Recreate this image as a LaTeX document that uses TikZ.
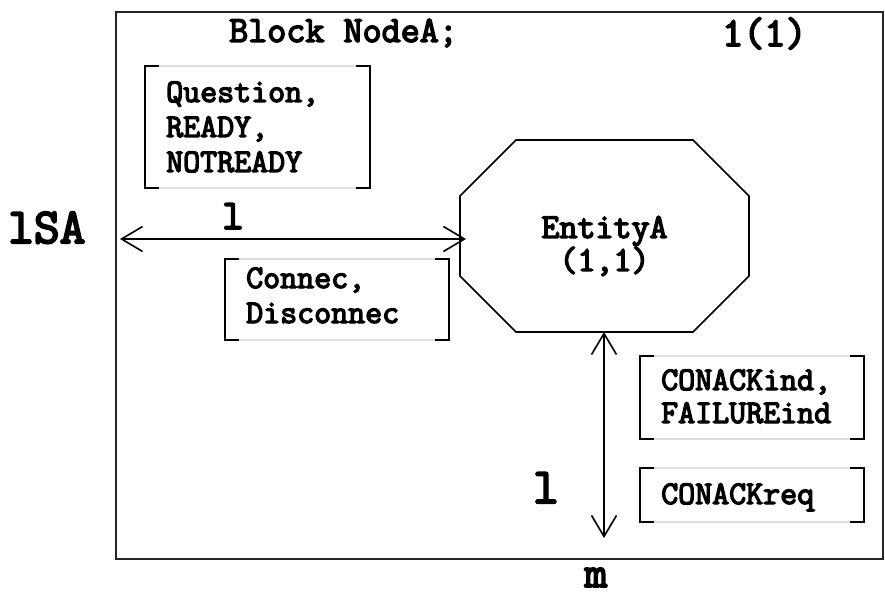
\documentclass[tikz,border=0pt]{standalone}
\usepackage{fontspec}
\newfontfamily\cour{Latin Modern Mono}[FakeBold=4]
\usetikzlibrary{arrows.meta}
\tikzset{
  txt/.style={font=\cour, inner sep=0pt, anchor=base west},
  boxtxt/.style={txt, font=\cour\fontsize{33}{35}\selectfont},
  frameline/.style={line width=1.8pt, black!85},
  edge/.style={line width=1.6pt, black},
  conn/.style={line width=1.6pt, black, {Straight Barb[length=21pt,width=25pt]}-{Straight Barb[length=21pt,width=25pt]}},
}
\newcommand\brbox[4]{%
  \draw[gray!25, line width=1.6pt] (#1,#2) rectangle (#3,#4);
  \draw[edge] (#1+14,#2) -- (#1,#2) -- (#1,#4) -- (#1+14,#4);
  \draw[edge] (#3-14,#2) -- (#3,#2) -- (#3,#4) -- (#3-14,#4);
}
\begin{document}
\begin{tikzpicture}[x=1pt,y=-1pt]
\useasboundingbox (0,0) rectangle (885,593);
% frame
\draw[frameline] (116,12) rectangle (883,559);
\node[txt, font=\cour\fontsize{37}{40}\selectfont] (title) at (229,42) {Block NodeA;};
\node[txt, font=\cour\fontsize{41}{44}\selectfont] (page) at (722,46) {1(1)};
% octagon
\coordinate (o1) at (516,140);
\coordinate (o2) at (693,140);
\coordinate (o3) at (749,196);
\coordinate (o4) at (749,276);
\coordinate (o5) at (693,332);
\coordinate (o6) at (516,332);
\coordinate (o7) at (460,276);
\coordinate (o8) at (460,196);
\draw[edge] (o1) -- (o2) -- (o3) -- (o4) -- (o5) -- (o6) -- (o7) -- (o8) -- cycle;
\node[txt, font=\cour\fontsize{35}{36}\selectfont, anchor=base] (ent1) at (604.5,238) {EntityA};
\node[txt, font=\cour\fontsize{35}{36}\selectfont, anchor=base] (ent2) at (604.5,271) {(1,1)};
% boxes
\brbox{145}{66}{370}{188}
\node[boxtxt] (q1) at (166,102) {Question,};
\node[boxtxt] (q2) at (166,137) {READY,};
\node[boxtxt] (q3) at (166,172) {NOTREADY};
\brbox{225}{259}{449}{340}
\node[boxtxt] (c1) at (246,288) {Connec,};
\node[boxtxt] (c2) at (246,323) {Disconnec};
\brbox{640}{356}{864}{439}
\node[boxtxt] (k1) at (661,390) {CONACKind,};
\node[boxtxt] (k2) at (661,423) {FAILUREind};
\brbox{640}{468}{864}{522}
\node[boxtxt] (k3) at (661,504) {CONACKreq};
% connectors
\coordinate (hl) at (120,239);
\coordinate (hr) at (466,239);
\draw[conn] (hl) -- (hr);
\coordinate (vt) at (604,332);
\coordinate (vb) at (604,538);
\draw[conn] (vt) -- (vb);
% labels
\node[txt, font=\cour\fontsize{42}{44}\selectfont, anchor=base] (l1) at (233,229) {l};
\node[txt, font=\cour\fontsize{50}{52}\selectfont] (lsa) at (8,243) {lSA};
\node[txt, font=\cour\fontsize{50}{52}\selectfont, anchor=base east] (l2) at (559,503) {l};
\node[txt, font=\cour\fontsize{44}{46}\selectfont, anchor=base] (m) at (596,587) {m};
\end{tikzpicture}
\end{document}
